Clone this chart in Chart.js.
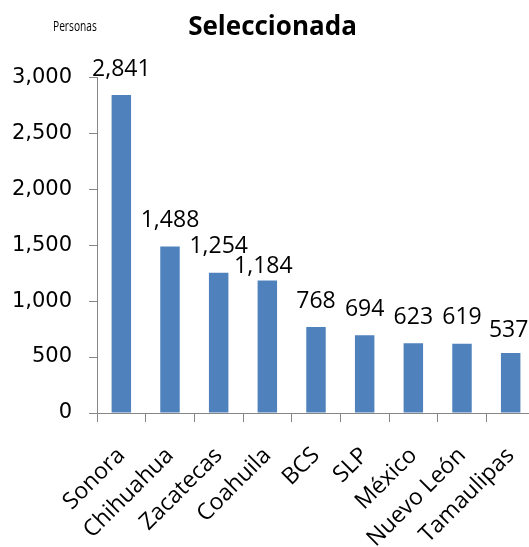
<!DOCTYPE html>
<html>
<head>
<meta charset="utf-8">
<script src="https://cdn.jsdelivr.net/npm/chart.js@4/dist/chart.umd.min.js"></script>
<style>
  body { margin: 0; overflow: hidden; background: #fff; }
  #wrap { position: relative; width: 540px; height: 547px; }
  #unit {
    position: absolute; left: 53px; top: 15px;
    font-family: "Open Sans", sans-serif; font-size: 15px; color: #000;
    transform: scaleX(0.68); transform-origin: left top; white-space: nowrap;
  }
</style>
</head>
<body>
<div id="wrap">
  <canvas id="myChart" width="540" height="547"></canvas>
  <div id="unit">Personas</div>
</div>
<script>
var estados = ["Sonora","Chihuahua","Zacatecas","Coahuila","BCS","SLP","México","Nuevo León","Tamaulipas"]
var personas = [2841,1488,1254,1184,768,694,623,619,537]
var yTicks = [0,500,1000,1500,2000,2500,3000]

function fmt(v){
    return Number(v).toLocaleString("en-US")
}

// etiquetas de valor encima de cada barra
var valueLabels = {
    id: "valueLabels",
    afterDatasetsDraw(chart, args, opts){
        let ctx = chart.ctx
        let meta = chart.getDatasetMeta(0)
        ctx.save()
        ctx.font = "23px 'Open Sans'"
        ctx.fillStyle = "#000"
        ctx.textAlign = "center"
        ctx.textBaseline = "middle"
        meta.data.forEach((bar, i) => {
            let nudge = opts.nudge[i] || [0,0]
            ctx.fillText(fmt(personas[i]), bar.x + nudge[0], bar.y - 26 + nudge[1])
        })
        ctx.restore()
    }
}

const ctx = document.getElementById("myChart")
var chart = new Chart(ctx, {
    type: "bar",
    data: {
        labels: estados,
        datasets: [{
            label: "Personas",
            data: personas,
            backgroundColor: "#4F81BD",
            borderWidth: 0,
            barPercentage: 0.4,
            categoryPercentage: 1
        }]
    },
    options: {
        responsive: false,
        animation: false,
        layout: { padding: { left: 10, right: 5, top: 0, bottom: 0 } },
        plugins: {
            legend: { display: false },
            tooltip: { enabled: false },
            title: {
                display: true,
                text: "Seleccionada",
                color: "#000",
                font: { family: "Open Sans", size: 26, weight: "bold" },
                padding: { top: 12, bottom: 34 }
            },
            valueLabels: { nudge: { 3: [-4, 12], 8: [-2, 4] } }
        },
        scales: {
            x: {
                afterFit: s => { s.height = 134; s.paddingLeft = 0; s.paddingRight = 0 },
                border: { color: "#868686" },
                grid: { display: true, drawOnChartArea: false, drawTicks: true, tickLength: 9, color: "#868686", offset: true },
                ticks: {
                    color: "#000",
                    font: { family: "Open Sans", size: 23 },
                    maxRotation: 45, minRotation: 45,
                    padding: 20
                }
            },
            y: {
                min: 0, max: 3000,
                afterFit: s => { s.width = 87 },
                afterBuildTicks: s => { s.ticks = yTicks.map(v => ({ value: v })) },
                border: { color: "#868686" },
                grid: { drawOnChartArea: false, drawTicks: true, tickLength: 8, color: "#868686" },
                ticks: {
                    color: "#000",
                    font: { family: "DejaVu Sans", size: 21 },
                    padding: 17,
                    callback: v => fmt(v)
                }
            }
        }
    },
    plugins: [valueLabels]
})
</script>
</body>
</html>
